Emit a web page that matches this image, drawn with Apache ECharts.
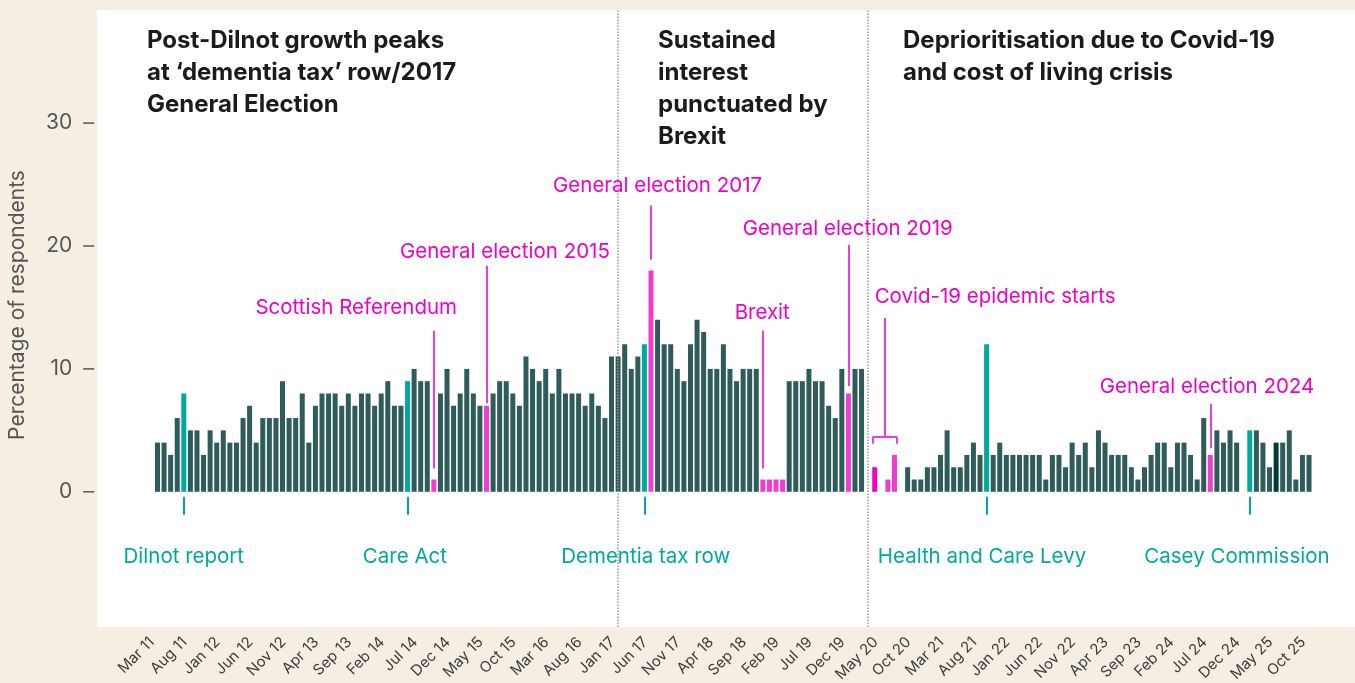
<!DOCTYPE html>
<html><head><meta charset="utf-8">
<script src="https://cdn.jsdelivr.net/npm/echarts@6/dist/echarts.min.js"></script>
<style>html,body{margin:0;padding:0;background:#f5efe3;} #c{width:1355px;height:683px;}</style>
</head><body><div id="c"></div>
<script>
// ---- data ----
const monthNames = ['Jan','Feb','Mar','Apr','May','Jun','Jul','Aug','Sep','Oct','Nov','Dec'];
const firstMonth = 2, firstYear = 11, monthCount = 176; // Mar 11 .. Oct 25
const categories = [];
for (let i = 0; i < monthCount; i++) {
  const m = firstMonth + i;
  categories.push(monthNames[m % 12] + ' ' + (firstYear + Math.floor(m / 12)));
}
const values = [
  4,4,3,6,8,5,5,3,5,4,5,4,4,6,7,4,6,6,
  6,9,6,6,8,4,7,8,8,8,7,8,7,8,8,7,8,9,
  7,7,9,10,9,9,1,8,10,7,8,10,8,7,7,8,9,9,
  8,7,11,10,9,10,8,10,8,8,8,7,8,7,6,11,11,12,10,
  11,12,18,14,12,12,10,9,12,14,13,10,10,12,10,9,10,10,
  10,1,1,1,1,9,9,9,10,9,9,7,6,10,8,10,10,
  null,
  2,0,1,3,0,2,1,1,2,2,3,5,2,2,3,4,3,12,
  3,4,3,3,3,3,3,3,1,3,3,2,4,3,4,2,5,4,
  3,3,3,2,1,2,3,4,4,2,4,4,3,1,6,3,5,4,5,
  4,0,5,5,4,2,4,4,5,1,3,3
];
const tealIdx = [4,38,74,126,166];
const pinkIdx = [42,50,75,92,93,94,95,105,110,111,112,160];
const magentaIdx = [109];
const darkIdx = [170];
const yTicks = [0,10,20,30];
const phaseBreaks = [70,108];
// pink events: [text, line x, line top, line bottom, text x, text y]
const pinkEvents = [
  ['Scottish Referendum', 42, 13.1, 1.9, 30.2, 14.95],
  ['General election 2015', 50, 18.4, 7.2, 52.8, 19.5],
  ['General election 2017', 75, 23.3, 18.9, 76.0, 24.9],
  ['Brexit', 92, 13.1, 1.9, 91.9, 14.6],
  ['General election 2019', 105, 20.1, 8.6, 104.9, 21.4],
  ['Covid-19 epidemic starts', 110.55, 14.15, 4.47, 127.3, 15.9],
  ['General election 2024', 160, 7.15, 3.55, 159.5, 8.55]
];
const covidSpan = [108.72, 112.4, 4.47, 3.9];
// teal events: [text, line x, text x]
const tealEvents = [
  ['Dilnot report', 4, 4.0],
  ['Care Act', 38, 37.6],
  ['Dementia tax row', 74, 74.2],
  ['Health and Care Levy', 126, 125.3],
  ['Casey Commission', 166, 164.05]
];
const tealLine = [-0.4, -1.87];
const tealTextY = -5.28;
const headings = [
  ['Post-Dilnot growth peaks\nat \u2018dementia tax\u2019 row/2017\nGeneral Election', 147],
  ['Sustained\ninterest\npunctuated by\nBrexit', 658],
  ['Deprioritisation due to Covid-19\nand cost of living crisis', 903]
];

// ---- styles ----
const C_DARK = '#2e5c5a', C_TEAL = '#00a99d', C_PINK = '#f03cd0', C_MAG = '#f200c8', C_DARKER = '#033a39';
const C_PTEXT = '#f000c8';
const FONT = 'Inter';

function colorFor(i) {
  if (tealIdx.includes(i)) return C_TEAL;
  if (magentaIdx.includes(i)) return C_MAG;
  if (pinkIdx.includes(i)) return C_PINK;
  if (darkIdx.includes(i)) return C_DARKER;
  return C_DARK;
}

const pinkLines = [];
pinkEvents.forEach(e => pinkLines.push([{coord:[e[1], e[2]]},{coord:[e[1], e[3]]}]));
pinkLines.push([{coord:[covidSpan[0], covidSpan[2]]},{coord:[covidSpan[1], covidSpan[2]]}]);
pinkLines.push([{coord:[covidSpan[0], covidSpan[2]]},{coord:[covidSpan[0], covidSpan[3]]}]);
pinkLines.push([{coord:[covidSpan[1], covidSpan[2]]},{coord:[covidSpan[1], covidSpan[3]]}]);
const tealLines = tealEvents.map(e => [{coord:[e[1], tealLine[0]]},{coord:[e[1], tealLine[1]]}]);

const textPoints = [];
pinkEvents.forEach(e => textPoints.push({coord:[e[4], e[5]], value:e[0], label:{color:C_PTEXT}}));
tealEvents.forEach(e => textPoints.push({coord:[e[2], tealTextY], value:e[0], label:{color:C_TEAL}}));

const chart = echarts.init(document.getElementById('c'), null, {renderer:'canvas'});
chart.setOption({
  backgroundColor:'#f5efe3',
  animation:false,
  grid:{left:154.2, right:42.7, top:10, bottom:56, outerBoundsMode:'none', containLabel:false},
  xAxis:[
    {type:'category', data:categories, boundaryGap:true,
     axisLine:{show:false}, axisTick:{show:false},
     axisLabel:{interval:4, rotate:45, fontSize:15, color:'#3c3c3c', margin:7,
                padding:[0,8,0,0], fontFamily:FONT}},
    {type:'value', min:-0.5, max:monthCount-0.5, show:false}
  ],
  yAxis:{type:'value', min:-11, max:39.2, offset:59,
    axisLine:{show:false}, splitLine:{show:false}, axisTick:{show:false},
    axisLabel:{customValues:yTicks, margin:1, fontFamily:FONT,
      formatter: v => '{n|' + v + '}{t|}',
      rich:{
        n:{fontSize:21, color:'#555', fontFamily:FONT, padding:[0,11,0,0], verticalAlign:'middle'},
        t:{width:11, height:1.5, backgroundColor:'#555', verticalAlign:'middle'}
      }}},
  graphic:[
    {type:'rect', z:-100, shape:{x:97,y:10,width:1258,height:617}, style:{fill:'#ffffff'}},
    {type:'text', x:18, y:305, rotation:Math.PI/2,
     style:{text:'Percentage of respondents', align:'center', verticalAlign:'middle',
            font:'21px ' + FONT, fill:'#555'}},
    ...headings.map(h => ({type:'text', x:h[1], y:25,
     style:{text:h[0], font:'bold 24px ' + FONT, lineHeight:32, fill:'#1b1b1b', verticalAlign:'top'}}))
  ],
  series:[
    {type:'line', xAxisIndex:1, data:[], z:1, silent:true,
     markLine:{silent:true, symbol:['none','none'], label:{show:false},
       lineStyle:{type:'dotted', color:'#9a9a9a', width:1.5},
       data: phaseBreaks.map(v => ({xAxis:v}))}},
    {type:'bar', xAxisIndex:0, barWidth:5, z:2,
     data: values.map((v,i) => ({value:v, itemStyle:{color:colorFor(i)}}))},
    {type:'line', xAxisIndex:1, data:[], z:3, silent:true,
     markLine:{silent:true, symbol:['none','none'], label:{show:false},
       lineStyle:{type:'solid', color:C_PINK, width:2},
       data: pinkLines},
     markPoint:{silent:true, symbol:'circle', symbolSize:1, itemStyle:{color:'rgba(0,0,0,0)'},
       label:{show:true, position:'inside', fontSize:20.5, fontFamily:FONT, formatter: p => p.value},
       data: textPoints}},
    {type:'line', xAxisIndex:1, data:[], z:3, silent:true,
     markLine:{silent:true, symbol:['none','none'], label:{show:false},
       lineStyle:{type:'solid', color:C_TEAL, width:2},
       data: tealLines}}
  ]
});
</script></body></html>
